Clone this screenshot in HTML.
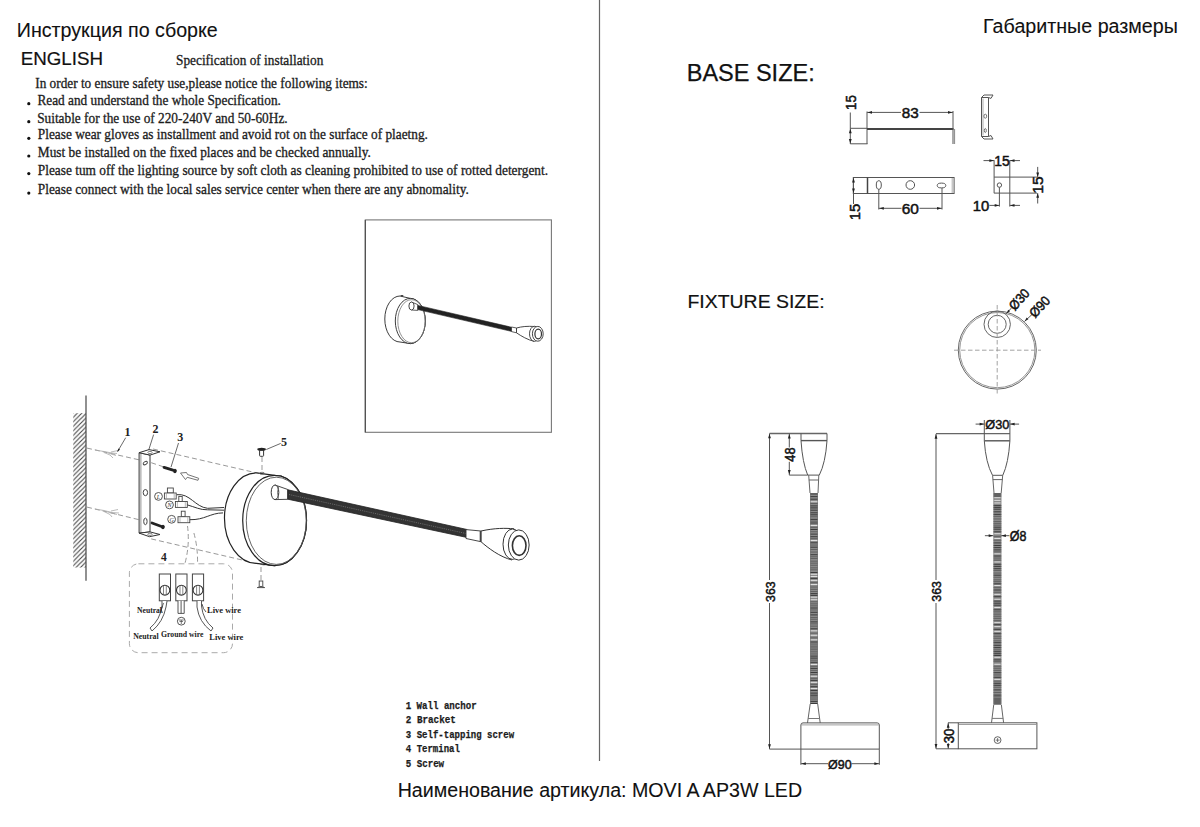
<!DOCTYPE html>
<html><head><meta charset="utf-8">
<style>
html,body{margin:0;padding:0;background:#fff;}
body{width:1200px;height:827px;overflow:hidden;position:relative;}
svg{position:absolute;left:0;top:0;}
.sans{font-family:"Liberation Sans",sans-serif;}
.serif{font-family:"Liberation Serif",serif;}
.mono{font-family:"Liberation Mono",monospace;}
</style></head><body>
<svg width="1200" height="827" viewBox="0 0 1200 827">
<defs>
<pattern id="goose" x="0" y="0" width="8" height="2" patternUnits="userSpaceOnUse">
<rect width="8" height="2" fill="#8a8a8a"/><rect y="0" width="8" height="0.9" fill="#5a5a5a"/>
</pattern>
<pattern id="hatch" x="0" y="0" width="4.5" height="4.5" patternUnits="userSpaceOnUse">
<path d="M-1,5.5 L5.5,-1 M-1,1 L1,-1 M3.5,5.5 L5.5,3.5" stroke="#444" stroke-width="1.1"/>
</pattern>
</defs>
<!-- divider -->
<line x1="599.5" y1="0" x2="599.5" y2="761" stroke="#666" stroke-width="1.2"/>

<!-- inset box -->
<rect x="365.3" y="219.9" width="186.1" height="212.4" fill="none" stroke="#777" stroke-width="1.1"/>
<line x1="365.3" y1="219.9" x2="365.3" y2="432.3" stroke="#4a4a4a" stroke-width="1.1"/>

<line x1="850.30" y1="112.50" x2="850.30" y2="144.00" stroke="#555" stroke-width="1" />
<line x1="850.30" y1="128.30" x2="867.00" y2="128.30" stroke="#555" stroke-width="1" />
<line x1="850.30" y1="143.80" x2="867.50" y2="143.80" stroke="#555" stroke-width="1" />
<line x1="867.00" y1="111.50" x2="867.00" y2="144.00" stroke="#555" stroke-width="1" />
<line x1="867.00" y1="128.90" x2="953.50" y2="128.90" stroke="#444" stroke-width="2" />
<line x1="953.00" y1="111.00" x2="953.00" y2="144.00" stroke="#555" stroke-width="1" />
<line x1="954.60" y1="129.00" x2="954.60" y2="144.00" stroke="#888" stroke-width="1" />
<path d="M850.30,128.80 L851.70,133.30 L848.90,133.30Z" fill="#222"/>
<path d="M850.30,143.40 L848.90,138.90 L851.70,138.90Z" fill="#222"/>
<line x1="867.00" y1="112.40" x2="901.00" y2="112.40" stroke="#555" stroke-width="1" />
<line x1="919.50" y1="112.40" x2="953.00" y2="112.40" stroke="#555" stroke-width="1" />
<path d="M867.50,112.40 L872.00,111.00 L872.00,113.80Z" fill="#222"/>
<path d="M952.50,112.40 L948.00,113.80 L948.00,111.00Z" fill="#222"/>
<text transform="translate(910.30,112.40) rotate(0)" x="0" y="5.58" font-family="Liberation Sans" font-size="15.5" text-anchor="middle" fill="#111" stroke="#111" stroke-width="0.5" textLength="17" lengthAdjust="spacingAndGlyphs">83</text>
<text transform="translate(850.80,102.60) rotate(-90)" x="0" y="5.40" font-family="Liberation Sans" font-size="15" text-anchor="middle" fill="#111" stroke="#111" stroke-width="0.5" textLength="14.8" lengthAdjust="spacingAndGlyphs">15</text>
<path d="M981.5,97.5 L988.5,97.5 L988.5,136.5 L981.5,136.5 Z" fill="none" stroke="#555" stroke-width="1"/>
<path d="M981.5,97.5 L984,95 L993,95 L991,98.4 L988.5,97.5" fill="none" stroke="#555" stroke-width="1"/>
<path d="M981.5,136.5 L984,139 L993,139 L991,135.5 L988.5,136.5" fill="none" stroke="#555" stroke-width="1"/>
<line x1="983.00" y1="98.50" x2="983.00" y2="135.50" stroke="#999" stroke-width="0.8" />
<ellipse cx="985.3" cy="116.2" rx="1.4" ry="2" fill="none" stroke="#666" stroke-width="0.9"/>
<ellipse cx="985.3" cy="130.5" rx="1" ry="2" fill="none" stroke="#666" stroke-width="0.9"/>
<rect x="853.3" y="177.5" width="100.8" height="16" fill="none" stroke="#555" stroke-width="1"/>
<line x1="867.50" y1="177.50" x2="867.50" y2="193.50" stroke="#444" stroke-width="1.5" />
<line x1="952.20" y1="178.00" x2="952.20" y2="193.00" stroke="#999" stroke-width="0.8" />
<line x1="853.50" y1="177.50" x2="853.50" y2="204.00" stroke="#555" stroke-width="1" />
<path d="M853.50,178.00 L854.90,182.50 L852.10,182.50Z" fill="#222"/>
<path d="M853.50,193.00 L852.10,188.50 L854.90,188.50Z" fill="#222"/>
<text transform="translate(854.30,212.00) rotate(-90)" x="0" y="5.40" font-family="Liberation Sans" font-size="15" text-anchor="middle" fill="#111" stroke="#111" stroke-width="0.5" textLength="16.5" lengthAdjust="spacingAndGlyphs">15</text>
<ellipse cx="878.8" cy="185" rx="2.5" ry="4.3" fill="none" stroke="#555" stroke-width="1"/>
<circle cx="910.3" cy="185" r="4.3" fill="none" stroke="#555" stroke-width="1"/>
<ellipse cx="941.5" cy="185.5" rx="4.3" ry="2.4" fill="none" stroke="#555" stroke-width="1"/>
<line x1="878.80" y1="189.30" x2="878.80" y2="209.50" stroke="#555" stroke-width="1" />
<line x1="942.00" y1="188.00" x2="942.00" y2="209.50" stroke="#555" stroke-width="1" />
<line x1="878.80" y1="208.30" x2="901.50" y2="208.30" stroke="#555" stroke-width="1" />
<line x1="919.50" y1="208.30" x2="942.00" y2="208.30" stroke="#555" stroke-width="1" />
<path d="M879.30,208.30 L883.80,206.90 L883.80,209.70Z" fill="#222"/>
<path d="M941.50,208.30 L937.00,209.70 L937.00,206.90Z" fill="#222"/>
<text transform="translate(910.30,208.30) rotate(0)" x="0" y="5.58" font-family="Liberation Sans" font-size="15.5" text-anchor="middle" fill="#111" stroke="#111" stroke-width="0.5" textLength="17.2" lengthAdjust="spacingAndGlyphs">60</text>
<line x1="994.10" y1="160.20" x2="994.10" y2="193.20" stroke="#555" stroke-width="1" />
<line x1="1009.80" y1="160.20" x2="1009.80" y2="206.60" stroke="#555" stroke-width="1" />
<line x1="994.10" y1="177.10" x2="1037.00" y2="177.10" stroke="#555" stroke-width="1" />
<line x1="994.10" y1="193.10" x2="1037.00" y2="193.10" stroke="#555" stroke-width="1" />
<circle cx="999.4" cy="185.1" r="2.2" fill="none" stroke="#555" stroke-width="1"/>
<line x1="999.40" y1="187.30" x2="999.40" y2="206.60" stroke="#555" stroke-width="1" />
<line x1="989.40" y1="205.40" x2="999.40" y2="205.40" stroke="#555" stroke-width="1" />
<path d="M999.20,205.40 L994.70,206.80 L994.70,204.00Z" fill="#222"/>
<line x1="1009.80" y1="205.40" x2="1020.00" y2="205.40" stroke="#555" stroke-width="1" />
<path d="M1010.00,205.40 L1014.50,204.00 L1014.50,206.80Z" fill="#222"/>
<text transform="translate(981.10,205.40) rotate(0)" x="0" y="5.40" font-family="Liberation Sans" font-size="15" text-anchor="middle" fill="#111" stroke="#111" stroke-width="0.5" textLength="16.5" lengthAdjust="spacingAndGlyphs">10</text>
<line x1="983.50" y1="160.60" x2="994.10" y2="160.60" stroke="#555" stroke-width="1" />
<path d="M993.90,160.60 L989.40,162.00 L989.40,159.20Z" fill="#222"/>
<line x1="1009.80" y1="160.60" x2="1020.00" y2="160.60" stroke="#555" stroke-width="1" />
<path d="M1010.00,160.60 L1014.50,159.20 L1014.50,162.00Z" fill="#222"/>
<text transform="translate(1002.10,160.80) rotate(0)" x="0" y="5.40" font-family="Liberation Sans" font-size="15" text-anchor="middle" fill="#111" stroke="#111" stroke-width="0.5" textLength="15.5" lengthAdjust="spacingAndGlyphs">15</text>
<line x1="1037.70" y1="166.90" x2="1037.70" y2="177.10" stroke="#555" stroke-width="1" />
<path d="M1037.70,176.90 L1036.30,172.40 L1039.10,172.40Z" fill="#222"/>
<line x1="1037.70" y1="193.10" x2="1037.70" y2="203.50" stroke="#555" stroke-width="1" />
<path d="M1037.70,193.30 L1039.10,197.80 L1036.30,197.80Z" fill="#222"/>
<text transform="translate(1037.30,185.00) rotate(-90)" x="0" y="5.40" font-family="Liberation Sans" font-size="15" text-anchor="middle" fill="#111" stroke="#111" stroke-width="0.5" textLength="17.3" lengthAdjust="spacingAndGlyphs">15</text>
<text x="16.80" y="36.70" font-family="Liberation Sans" font-size="19.6" fill="#111" stroke="#111" stroke-width="0.1" textLength="200.96" lengthAdjust="spacingAndGlyphs" >Инструкция по сборке</text>
<text x="20.71" y="65.30" font-family="Liberation Sans" font-size="18.9" fill="#111" stroke="#111" stroke-width="0.2" textLength="82.35" lengthAdjust="spacingAndGlyphs" >ENGLISH</text>
<text x="983.09" y="32.70" font-family="Liberation Sans" font-size="19.6" fill="#111" stroke="#111" stroke-width="0.1" textLength="194.81" lengthAdjust="spacingAndGlyphs" >Габаритные размеры</text>
<text x="686.71" y="81.10" font-family="Liberation Sans" font-size="23.6" fill="#111" stroke="#111" stroke-width="0.25" textLength="128.01" lengthAdjust="spacingAndGlyphs" >BASE SIZE:</text>
<text x="687.48" y="308.10" font-family="Liberation Sans" font-size="19.2" fill="#111" stroke="#111" stroke-width="0.2" textLength="137.12" lengthAdjust="spacingAndGlyphs" >FIXTURE SIZE:</text>
<text x="397.70" y="796.60" font-family="Liberation Sans" font-size="19.6" fill="#111" stroke="#111" stroke-width="0.1" textLength="404.43" lengthAdjust="spacingAndGlyphs" >Наименование артикула: MOVI A AP3W LED</text>
<text x="176.03" y="65.40" font-family="Liberation Serif" font-size="13.8" fill="#1c1c1c" stroke="#1c1c1c" stroke-width="0.3" textLength="147.29" lengthAdjust="spacingAndGlyphs" >Specification of installation</text>
<text x="35.22" y="87.50" font-family="Liberation Serif" font-size="13.8" fill="#1c1c1c" stroke="#1c1c1c" stroke-width="0.3" textLength="332.50" lengthAdjust="spacingAndGlyphs" >In order to ensure safety use,please notice the following items:</text>
<text x="37.41" y="104.70" font-family="Liberation Serif" font-size="13.8" fill="#1c1c1c" stroke="#1c1c1c" stroke-width="0.3" textLength="243.47" lengthAdjust="spacingAndGlyphs" >Read and understand the whole Specification.</text>
<text x="37.13" y="122.60" font-family="Liberation Serif" font-size="13.8" fill="#1c1c1c" stroke="#1c1c1c" stroke-width="0.3" textLength="250.52" lengthAdjust="spacingAndGlyphs" >Suitable for the use of 220-240V and 50-60Hz.</text>
<text x="37.81" y="139.40" font-family="Liberation Serif" font-size="13.8" fill="#1c1c1c" stroke="#1c1c1c" stroke-width="0.3" textLength="390.14" lengthAdjust="spacingAndGlyphs" >Please wear gloves as installment and avoid rot on the surface of plaetng.</text>
<text x="37.81" y="157.10" font-family="Liberation Serif" font-size="13.8" fill="#1c1c1c" stroke="#1c1c1c" stroke-width="0.3" textLength="333.03" lengthAdjust="spacingAndGlyphs" >Must be installed on the fixed places and be checked annually.</text>
<text x="37.81" y="174.60" font-family="Liberation Serif" font-size="13.8" fill="#1c1c1c" stroke="#1c1c1c" stroke-width="0.3" textLength="510.24" lengthAdjust="spacingAndGlyphs" >Please tum off the lighting source by soft cloth as cleaning prohibited to use of rotted detergent.</text>
<text x="37.81" y="194.20" font-family="Liberation Serif" font-size="13.8" fill="#1c1c1c" stroke="#1c1c1c" stroke-width="0.3" textLength="431.02" lengthAdjust="spacingAndGlyphs" >Please connect with the local sales service center when there are any abnomality.</text>
<circle cx="28.8" cy="103.7" r="1.6" fill="#111"/>
<circle cx="28.8" cy="121.7" r="1.6" fill="#111"/>
<circle cx="28.8" cy="138.3" r="1.6" fill="#111"/>
<circle cx="28.8" cy="156" r="1.6" fill="#111"/>
<circle cx="28.8" cy="173.6" r="1.6" fill="#111"/>
<circle cx="28.8" cy="193.1" r="1.6" fill="#111"/>
<text x="405.69" y="708.60" font-family="Liberation Mono" font-size="10.5" fill="#1c1c1c" font-weight="bold" stroke="#1c1c1c" stroke-width="0.25" textLength="70.93" lengthAdjust="spacingAndGlyphs" >1 Wall anchor</text>
<text x="405.77" y="723.10" font-family="Liberation Mono" font-size="10.5" fill="#1c1c1c" font-weight="bold" stroke="#1c1c1c" stroke-width="0.25" textLength="50.13" lengthAdjust="spacingAndGlyphs" >2 Bracket</text>
<text x="405.87" y="737.60" font-family="Liberation Mono" font-size="10.5" fill="#1c1c1c" font-weight="bold" stroke="#1c1c1c" stroke-width="0.25" textLength="108.24" lengthAdjust="spacingAndGlyphs" >3 Self-tapping screw</text>
<text x="405.86" y="751.80" font-family="Liberation Mono" font-size="10.5" fill="#1c1c1c" font-weight="bold" stroke="#1c1c1c" stroke-width="0.25" textLength="54.00" lengthAdjust="spacingAndGlyphs" >4 Terminal</text>
<text x="405.77" y="766.50" font-family="Liberation Mono" font-size="10.5" fill="#1c1c1c" font-weight="bold" stroke="#1c1c1c" stroke-width="0.25" textLength="38.33" lengthAdjust="spacingAndGlyphs" >5 Screw</text>
<circle cx="997.3" cy="350.1" r="39" fill="none" stroke="#666" stroke-width="1"/>
<circle cx="997.3" cy="350.1" r="37.6" fill="none" stroke="#888" stroke-width="0.9"/>
<circle cx="997.2" cy="324.3" r="13.2" fill="none" stroke="#666" stroke-width="1"/>
<circle cx="997.2" cy="324.3" r="9" fill="none" stroke="#666" stroke-width="1"/>
<line x1="997.2" y1="305" x2="997.2" y2="396" stroke="#999" stroke-width="0.9" stroke-dasharray="4.5,2.5"/>
<line x1="954" y1="350.2" x2="1041" y2="350.2" stroke="#999" stroke-width="0.9" stroke-dasharray="4.5,2.5"/>
<line x1="1006.30" y1="313.80" x2="1011.20" y2="308.20" stroke="#555" stroke-width="1" />
<path d="M1006.50,313.60 L1008.19,309.78 L1010.01,311.34Z" fill="#222"/>
<line x1="1024.50" y1="321.50" x2="1032.30" y2="314.20" stroke="#555" stroke-width="1" />
<path d="M1024.70,321.30 L1026.63,317.60 L1028.35,319.27Z" fill="#222"/>
<text transform="translate(1019.00,299.20) rotate(-47.7)" x="0" y="4.86" font-family="Liberation Sans" font-size="13.5" text-anchor="middle" fill="#111" stroke="#111" stroke-width="0.5" textLength="23.5" lengthAdjust="spacingAndGlyphs">Ø30</text>
<text transform="translate(1039.50,306.70) rotate(-46.3)" x="0" y="4.86" font-family="Liberation Sans" font-size="13.5" text-anchor="middle" fill="#111" stroke="#111" stroke-width="0.5" textLength="23.5" lengthAdjust="spacingAndGlyphs">Ø90</text>
<line x1="769.50" y1="433.50" x2="769.50" y2="580.00" stroke="#555" stroke-width="1" />
<line x1="769.50" y1="603.00" x2="769.50" y2="749.10" stroke="#555" stroke-width="1" />
<path d="M769.50,433.80 L770.90,438.30 L768.10,438.30Z" fill="#222"/>
<path d="M769.50,748.80 L768.10,744.30 L770.90,744.30Z" fill="#222"/>
<line x1="769.50" y1="433.50" x2="827.00" y2="433.50" stroke="#666" stroke-width="1.3" />
<text transform="translate(769.65,591.65) rotate(-90)" x="0" y="4.86" font-family="Liberation Sans" font-size="13.5" text-anchor="middle" fill="#111" stroke="#111" stroke-width="0.5" textLength="20.5" lengthAdjust="spacingAndGlyphs">363</text>
<path d="M801,433.5 L801,440.6 Q802.5,463 807.7,475.1 L819.3,475.1 Q825.5,463 827,440.6 L827,433.5" fill="none" stroke="#555" stroke-width="1"/>
<line x1="801.00" y1="440.60" x2="827.00" y2="440.60" stroke="#555" stroke-width="1.4" />
<line x1="789.30" y1="433.50" x2="789.30" y2="447.50" stroke="#555" stroke-width="1" />
<line x1="789.30" y1="461.80" x2="789.30" y2="475.10" stroke="#555" stroke-width="1" />
<path d="M789.30,434.00 L790.70,438.50 L787.90,438.50Z" fill="#222"/>
<path d="M789.30,474.60 L787.90,470.10 L790.70,470.10Z" fill="#222"/>
<line x1="789.30" y1="475.10" x2="807.70" y2="475.10" stroke="#555" stroke-width="1" />
<text transform="translate(789.85,454.60) rotate(-90)" x="0" y="5.04" font-family="Liberation Sans" font-size="14" text-anchor="middle" fill="#111" stroke="#111" stroke-width="0.5" textLength="14.3" lengthAdjust="spacingAndGlyphs">48</text>
<path d="M808.7,475.1 L810,493 M818.8,475.1 L818,493" fill="none" stroke="#666" stroke-width="1"/>
<line x1="808.90" y1="480.00" x2="818.70" y2="480.00" stroke="#666" stroke-width="1" />
<rect x="810" y="493" width="8" height="211" fill="#8a8a8a"/>
<rect x="810" y="493.50" width="8" height="1.0" fill="#3c3c3c"/>
<rect x="810" y="496.10" width="8" height="1.0" fill="#3c3c3c"/>
<rect x="810" y="498.70" width="8" height="1.0" fill="#3c3c3c"/>
<rect x="810" y="501.30" width="8" height="0.9" fill="#e8e8e8"/>
<rect x="810" y="503.10" width="8" height="0.9" fill="#5e5e5e"/>
<rect x="810" y="505.40" width="8" height="1.0" fill="#3c3c3c"/>
<rect x="810" y="507.40" width="8" height="1.0" fill="#3c3c3c"/>
<rect x="810" y="509.70" width="8" height="1.0" fill="#3c3c3c"/>
<rect x="810" y="512.30" width="8" height="1.0" fill="#3c3c3c"/>
<rect x="810" y="514.30" width="8" height="1.0" fill="#3c3c3c"/>
<rect x="810" y="516.30" width="8" height="0.9" fill="#5e5e5e"/>
<rect x="810" y="518.90" width="8" height="1.0" fill="#3c3c3c"/>
<rect x="810" y="520.70" width="8" height="0.9" fill="#5e5e5e"/>
<rect x="810" y="522.50" width="8" height="1.0" fill="#3c3c3c"/>
<rect x="810" y="525.10" width="8" height="0.9" fill="#e8e8e8"/>
<rect x="810" y="526.90" width="8" height="0.9" fill="#5e5e5e"/>
<rect x="810" y="529.00" width="8" height="1.0" fill="#3c3c3c"/>
<rect x="810" y="531.30" width="8" height="0.9" fill="#5e5e5e"/>
<rect x="810" y="533.60" width="8" height="1.0" fill="#3c3c3c"/>
<rect x="810" y="536.20" width="8" height="1.0" fill="#3c3c3c"/>
<rect x="810" y="538.20" width="8" height="0.9" fill="#5e5e5e"/>
<rect x="810" y="540.00" width="8" height="0.9" fill="#e8e8e8"/>
<rect x="810" y="542.30" width="8" height="1.0" fill="#3c3c3c"/>
<rect x="810" y="544.60" width="8" height="0.9" fill="#5e5e5e"/>
<rect x="810" y="546.70" width="8" height="1.0" fill="#3c3c3c"/>
<rect x="810" y="549.00" width="8" height="0.9" fill="#5e5e5e"/>
<rect x="810" y="551.60" width="8" height="0.9" fill="#5e5e5e"/>
<rect x="810" y="554.20" width="8" height="1.0" fill="#3c3c3c"/>
<rect x="810" y="556.30" width="8" height="0.9" fill="#5e5e5e"/>
<rect x="810" y="558.10" width="8" height="0.9" fill="#5e5e5e"/>
<rect x="810" y="560.70" width="8" height="0.9" fill="#5e5e5e"/>
<rect x="810" y="562.70" width="8" height="0.9" fill="#5e5e5e"/>
<rect x="810" y="564.80" width="8" height="0.9" fill="#5e5e5e"/>
<rect x="810" y="567.40" width="8" height="0.9" fill="#5e5e5e"/>
<rect x="810" y="569.40" width="8" height="0.9" fill="#5e5e5e"/>
<rect x="810" y="572.00" width="8" height="1.0" fill="#3c3c3c"/>
<rect x="810" y="573.80" width="8" height="0.9" fill="#e8e8e8"/>
<rect x="810" y="576.10" width="8" height="0.9" fill="#e8e8e8"/>
<rect x="810" y="577.90" width="8" height="1.0" fill="#3c3c3c"/>
<rect x="810" y="579.90" width="8" height="0.9" fill="#e8e8e8"/>
<rect x="810" y="582.20" width="8" height="0.9" fill="#5e5e5e"/>
<rect x="810" y="584.00" width="8" height="0.9" fill="#e8e8e8"/>
<rect x="810" y="586.60" width="8" height="0.9" fill="#5e5e5e"/>
<rect x="810" y="588.90" width="8" height="0.9" fill="#5e5e5e"/>
<rect x="810" y="591.00" width="8" height="0.9" fill="#5e5e5e"/>
<rect x="810" y="593.10" width="8" height="1.0" fill="#3c3c3c"/>
<rect x="810" y="594.90" width="8" height="1.0" fill="#3c3c3c"/>
<rect x="810" y="596.70" width="8" height="0.9" fill="#e8e8e8"/>
<rect x="810" y="599.30" width="8" height="0.9" fill="#e8e8e8"/>
<rect x="810" y="601.30" width="8" height="0.9" fill="#5e5e5e"/>
<rect x="810" y="603.40" width="8" height="0.9" fill="#5e5e5e"/>
<rect x="810" y="605.40" width="8" height="0.9" fill="#5e5e5e"/>
<rect x="810" y="607.50" width="8" height="1.0" fill="#3c3c3c"/>
<rect x="810" y="609.50" width="8" height="0.9" fill="#5e5e5e"/>
<rect x="810" y="611.80" width="8" height="1.0" fill="#3c3c3c"/>
<rect x="810" y="614.40" width="8" height="1.0" fill="#3c3c3c"/>
<rect x="810" y="617.00" width="8" height="0.9" fill="#5e5e5e"/>
<rect x="810" y="618.80" width="8" height="0.9" fill="#5e5e5e"/>
<rect x="810" y="621.40" width="8" height="1.0" fill="#3c3c3c"/>
<rect x="810" y="623.40" width="8" height="0.9" fill="#5e5e5e"/>
<rect x="810" y="625.70" width="8" height="0.9" fill="#5e5e5e"/>
<rect x="810" y="628.30" width="8" height="1.0" fill="#3c3c3c"/>
<rect x="810" y="630.40" width="8" height="0.9" fill="#e8e8e8"/>
<rect x="810" y="632.70" width="8" height="0.9" fill="#5e5e5e"/>
<rect x="810" y="634.80" width="8" height="0.9" fill="#e8e8e8"/>
<rect x="810" y="637.40" width="8" height="0.9" fill="#5e5e5e"/>
<rect x="810" y="639.40" width="8" height="0.9" fill="#e8e8e8"/>
<rect x="810" y="641.50" width="8" height="1.0" fill="#3c3c3c"/>
<rect x="810" y="643.60" width="8" height="0.9" fill="#5e5e5e"/>
<rect x="810" y="645.70" width="8" height="0.9" fill="#5e5e5e"/>
<rect x="810" y="647.50" width="8" height="0.9" fill="#5e5e5e"/>
<rect x="810" y="649.30" width="8" height="0.9" fill="#5e5e5e"/>
<rect x="810" y="651.40" width="8" height="0.9" fill="#5e5e5e"/>
<rect x="810" y="653.50" width="8" height="0.9" fill="#5e5e5e"/>
<rect x="810" y="655.60" width="8" height="1.0" fill="#3c3c3c"/>
<rect x="810" y="657.60" width="8" height="1.0" fill="#3c3c3c"/>
<rect x="810" y="659.70" width="8" height="0.9" fill="#5e5e5e"/>
<rect x="810" y="661.80" width="8" height="1.0" fill="#3c3c3c"/>
<rect x="810" y="664.10" width="8" height="0.9" fill="#e8e8e8"/>
<rect x="810" y="665.90" width="8" height="0.9" fill="#5e5e5e"/>
<rect x="810" y="667.90" width="8" height="1.0" fill="#3c3c3c"/>
<rect x="810" y="669.90" width="8" height="0.9" fill="#5e5e5e"/>
<rect x="810" y="672.00" width="8" height="1.0" fill="#3c3c3c"/>
<rect x="810" y="674.00" width="8" height="0.9" fill="#5e5e5e"/>
<rect x="810" y="675.80" width="8" height="0.9" fill="#e8e8e8"/>
<rect x="810" y="677.90" width="8" height="0.9" fill="#5e5e5e"/>
<rect x="810" y="679.90" width="8" height="1.0" fill="#3c3c3c"/>
<rect x="810" y="681.90" width="8" height="0.9" fill="#e8e8e8"/>
<rect x="810" y="683.90" width="8" height="0.9" fill="#5e5e5e"/>
<rect x="810" y="686.20" width="8" height="1.0" fill="#3c3c3c"/>
<rect x="810" y="688.00" width="8" height="0.9" fill="#e8e8e8"/>
<rect x="810" y="690.00" width="8" height="1.0" fill="#3c3c3c"/>
<rect x="810" y="692.60" width="8" height="1.0" fill="#3c3c3c"/>
<rect x="810" y="694.70" width="8" height="1.0" fill="#3c3c3c"/>
<rect x="810" y="696.50" width="8" height="0.9" fill="#5e5e5e"/>
<rect x="810" y="698.60" width="8" height="0.9" fill="#5e5e5e"/>
<rect x="810" y="700.90" width="8" height="1.0" fill="#3c3c3c"/>
<rect x="810" y="703.00" width="8" height="1.0" fill="#3c3c3c"/>
<rect x="810" y="493" width="0.8" height="211" fill="#777" opacity="0.7"/>
<rect x="817.2" y="493" width="0.8" height="211" fill="#777" opacity="0.7"/>
<path d="M810.2,704 L807.5,722.9 M817.7,704 L820.2,722.9" fill="none" stroke="#666" stroke-width="1"/>
<line x1="808.00" y1="718.50" x2="819.80" y2="718.50" stroke="#777" stroke-width="1" />
<path d="M800.9,749.1 L800.9,725 Q800.9,722.9 803,722.9 L877.2,722.9 Q879.3,722.9 879.3,725 L879.3,749.1" fill="none" stroke="#555" stroke-width="1"/>
<line x1="801.50" y1="724.90" x2="878.70" y2="724.90" stroke="#888" stroke-width="0.8" />
<line x1="769.50" y1="749.10" x2="879.30" y2="749.10" stroke="#555" stroke-width="1" />
<line x1="800.90" y1="749.10" x2="800.90" y2="764.80" stroke="#555" stroke-width="1" />
<line x1="879.30" y1="749.10" x2="879.30" y2="764.80" stroke="#555" stroke-width="1" />
<line x1="800.90" y1="763.70" x2="828.00" y2="763.70" stroke="#555" stroke-width="1" />
<line x1="851.50" y1="763.70" x2="879.30" y2="763.70" stroke="#555" stroke-width="1" />
<path d="M801.30,763.70 L805.80,762.30 L805.80,765.10Z" fill="#222"/>
<path d="M878.90,763.70 L874.40,765.10 L874.40,762.30Z" fill="#222"/>
<text transform="translate(839.80,763.90) rotate(0)" x="0" y="4.86" font-family="Liberation Sans" font-size="13.5" text-anchor="middle" fill="#111" stroke="#111" stroke-width="0.5" textLength="23.5" lengthAdjust="spacingAndGlyphs">Ø90</text>
<line x1="936.00" y1="433.90" x2="936.00" y2="580.00" stroke="#555" stroke-width="1" />
<line x1="936.00" y1="603.00" x2="936.00" y2="748.80" stroke="#555" stroke-width="1" />
<path d="M936.00,434.20 L937.40,438.70 L934.60,438.70Z" fill="#222"/>
<path d="M936.00,748.50 L934.60,744.00 L937.40,744.00Z" fill="#222"/>
<line x1="936.00" y1="433.70" x2="1009.90" y2="433.70" stroke="#666" stroke-width="1.3" />
<text transform="translate(936.20,591.40) rotate(-90)" x="0" y="4.86" font-family="Liberation Sans" font-size="13.5" text-anchor="middle" fill="#111" stroke="#111" stroke-width="0.5" textLength="20.5" lengthAdjust="spacingAndGlyphs">363</text>
<path d="M984.3,420 L984.3,440.8 Q985.8,463 992.5,475.3 L1002.8,475.3 Q1008.5,463 1009.9,440.8 L1009.9,420" fill="none" stroke="#555" stroke-width="1"/>
<line x1="984.30" y1="440.80" x2="1009.90" y2="440.80" stroke="#555" stroke-width="1.4" />
<line x1="975.60" y1="424.10" x2="984.30" y2="424.10" stroke="#555" stroke-width="1" />
<path d="M984.10,424.10 L979.60,425.50 L979.60,422.70Z" fill="#222"/>
<line x1="1009.90" y1="424.10" x2="1019.10" y2="424.10" stroke="#555" stroke-width="1" />
<path d="M1010.10,424.10 L1014.60,422.70 L1014.60,425.50Z" fill="#222"/>
<text transform="translate(997.35,424.50) rotate(0)" x="0" y="4.86" font-family="Liberation Sans" font-size="13.5" text-anchor="middle" fill="#111" stroke="#111" stroke-width="0.5" textLength="24" lengthAdjust="spacingAndGlyphs">Ø30</text>
<path d="M992.6,475.3 L994,493 M1002.7,475.3 L1001.2,493" fill="none" stroke="#666" stroke-width="1"/>
<line x1="992.80" y1="479.60" x2="1002.60" y2="479.60" stroke="#666" stroke-width="1" />
<rect x="993.5" y="493" width="7.8" height="212" fill="#8a8a8a"/>
<rect x="993.5" y="493.50" width="7.8" height="1.0" fill="#3c3c3c"/>
<rect x="993.5" y="495.50" width="7.8" height="1.0" fill="#3c3c3c"/>
<rect x="993.5" y="497.30" width="7.8" height="0.9" fill="#e8e8e8"/>
<rect x="993.5" y="499.90" width="7.8" height="0.9" fill="#e8e8e8"/>
<rect x="993.5" y="502.50" width="7.8" height="0.9" fill="#e8e8e8"/>
<rect x="993.5" y="505.10" width="7.8" height="1.0" fill="#3c3c3c"/>
<rect x="993.5" y="506.90" width="7.8" height="1.0" fill="#3c3c3c"/>
<rect x="993.5" y="508.70" width="7.8" height="1.0" fill="#3c3c3c"/>
<rect x="993.5" y="511.30" width="7.8" height="1.0" fill="#3c3c3c"/>
<rect x="993.5" y="513.90" width="7.8" height="1.0" fill="#3c3c3c"/>
<rect x="993.5" y="515.90" width="7.8" height="0.9" fill="#5e5e5e"/>
<rect x="993.5" y="518.50" width="7.8" height="0.9" fill="#5e5e5e"/>
<rect x="993.5" y="521.10" width="7.8" height="0.9" fill="#5e5e5e"/>
<rect x="993.5" y="522.90" width="7.8" height="0.9" fill="#5e5e5e"/>
<rect x="993.5" y="524.70" width="7.8" height="0.9" fill="#5e5e5e"/>
<rect x="993.5" y="526.70" width="7.8" height="1.0" fill="#3c3c3c"/>
<rect x="993.5" y="528.70" width="7.8" height="1.0" fill="#3c3c3c"/>
<rect x="993.5" y="531.30" width="7.8" height="1.0" fill="#3c3c3c"/>
<rect x="993.5" y="533.30" width="7.8" height="0.9" fill="#e8e8e8"/>
<rect x="993.5" y="535.90" width="7.8" height="0.9" fill="#5e5e5e"/>
<rect x="993.5" y="538.00" width="7.8" height="0.9" fill="#e8e8e8"/>
<rect x="993.5" y="539.80" width="7.8" height="0.9" fill="#5e5e5e"/>
<rect x="993.5" y="542.40" width="7.8" height="1.0" fill="#3c3c3c"/>
<rect x="993.5" y="545.00" width="7.8" height="1.0" fill="#3c3c3c"/>
<rect x="993.5" y="547.10" width="7.8" height="1.0" fill="#3c3c3c"/>
<rect x="993.5" y="549.40" width="7.8" height="1.0" fill="#3c3c3c"/>
<rect x="993.5" y="551.40" width="7.8" height="0.9" fill="#5e5e5e"/>
<rect x="993.5" y="553.40" width="7.8" height="0.9" fill="#e8e8e8"/>
<rect x="993.5" y="555.50" width="7.8" height="1.0" fill="#3c3c3c"/>
<rect x="993.5" y="557.60" width="7.8" height="0.9" fill="#5e5e5e"/>
<rect x="993.5" y="559.70" width="7.8" height="0.9" fill="#5e5e5e"/>
<rect x="993.5" y="561.50" width="7.8" height="0.9" fill="#e8e8e8"/>
<rect x="993.5" y="563.80" width="7.8" height="1.0" fill="#3c3c3c"/>
<rect x="993.5" y="565.90" width="7.8" height="1.0" fill="#3c3c3c"/>
<rect x="993.5" y="568.20" width="7.8" height="1.0" fill="#3c3c3c"/>
<rect x="993.5" y="570.00" width="7.8" height="0.9" fill="#5e5e5e"/>
<rect x="993.5" y="572.60" width="7.8" height="0.9" fill="#5e5e5e"/>
<rect x="993.5" y="574.70" width="7.8" height="1.0" fill="#3c3c3c"/>
<rect x="993.5" y="576.80" width="7.8" height="0.9" fill="#5e5e5e"/>
<rect x="993.5" y="579.40" width="7.8" height="0.9" fill="#5e5e5e"/>
<rect x="993.5" y="581.20" width="7.8" height="0.9" fill="#5e5e5e"/>
<rect x="993.5" y="583.30" width="7.8" height="1.0" fill="#3c3c3c"/>
<rect x="993.5" y="585.10" width="7.8" height="0.9" fill="#e8e8e8"/>
<rect x="993.5" y="587.20" width="7.8" height="0.9" fill="#5e5e5e"/>
<rect x="993.5" y="589.50" width="7.8" height="1.0" fill="#3c3c3c"/>
<rect x="993.5" y="591.80" width="7.8" height="0.9" fill="#5e5e5e"/>
<rect x="993.5" y="593.90" width="7.8" height="0.9" fill="#e8e8e8"/>
<rect x="993.5" y="596.20" width="7.8" height="1.0" fill="#3c3c3c"/>
<rect x="993.5" y="598.80" width="7.8" height="0.9" fill="#e8e8e8"/>
<rect x="993.5" y="600.60" width="7.8" height="1.0" fill="#3c3c3c"/>
<rect x="993.5" y="602.70" width="7.8" height="1.0" fill="#3c3c3c"/>
<rect x="993.5" y="604.70" width="7.8" height="1.0" fill="#3c3c3c"/>
<rect x="993.5" y="607.00" width="7.8" height="0.9" fill="#e8e8e8"/>
<rect x="993.5" y="609.30" width="7.8" height="1.0" fill="#3c3c3c"/>
<rect x="993.5" y="611.40" width="7.8" height="0.9" fill="#5e5e5e"/>
<rect x="993.5" y="613.70" width="7.8" height="0.9" fill="#5e5e5e"/>
<rect x="993.5" y="615.80" width="7.8" height="0.9" fill="#5e5e5e"/>
<rect x="993.5" y="617.90" width="7.8" height="0.9" fill="#5e5e5e"/>
<rect x="993.5" y="620.20" width="7.8" height="0.9" fill="#5e5e5e"/>
<rect x="993.5" y="622.20" width="7.8" height="0.9" fill="#e8e8e8"/>
<rect x="993.5" y="624.20" width="7.8" height="1.0" fill="#3c3c3c"/>
<rect x="993.5" y="626.20" width="7.8" height="0.9" fill="#e8e8e8"/>
<rect x="993.5" y="628.80" width="7.8" height="1.0" fill="#3c3c3c"/>
<rect x="993.5" y="630.90" width="7.8" height="0.9" fill="#e8e8e8"/>
<rect x="993.5" y="633.20" width="7.8" height="1.0" fill="#3c3c3c"/>
<rect x="993.5" y="635.80" width="7.8" height="0.9" fill="#5e5e5e"/>
<rect x="993.5" y="637.80" width="7.8" height="0.9" fill="#5e5e5e"/>
<rect x="993.5" y="640.40" width="7.8" height="0.9" fill="#5e5e5e"/>
<rect x="993.5" y="642.20" width="7.8" height="1.0" fill="#3c3c3c"/>
<rect x="993.5" y="644.80" width="7.8" height="1.0" fill="#3c3c3c"/>
<rect x="993.5" y="647.10" width="7.8" height="1.0" fill="#3c3c3c"/>
<rect x="993.5" y="649.40" width="7.8" height="0.9" fill="#5e5e5e"/>
<rect x="993.5" y="651.20" width="7.8" height="1.0" fill="#3c3c3c"/>
<rect x="993.5" y="653.20" width="7.8" height="1.0" fill="#3c3c3c"/>
<rect x="993.5" y="655.00" width="7.8" height="1.0" fill="#3c3c3c"/>
<rect x="993.5" y="656.80" width="7.8" height="0.9" fill="#e8e8e8"/>
<rect x="993.5" y="659.40" width="7.8" height="1.0" fill="#3c3c3c"/>
<rect x="993.5" y="661.20" width="7.8" height="0.9" fill="#5e5e5e"/>
<rect x="993.5" y="663.80" width="7.8" height="0.9" fill="#e8e8e8"/>
<rect x="993.5" y="665.80" width="7.8" height="0.9" fill="#5e5e5e"/>
<rect x="993.5" y="667.80" width="7.8" height="0.9" fill="#5e5e5e"/>
<rect x="993.5" y="669.90" width="7.8" height="0.9" fill="#5e5e5e"/>
<rect x="993.5" y="672.20" width="7.8" height="1.0" fill="#3c3c3c"/>
<rect x="993.5" y="674.50" width="7.8" height="0.9" fill="#5e5e5e"/>
<rect x="993.5" y="676.80" width="7.8" height="1.0" fill="#3c3c3c"/>
<rect x="993.5" y="678.90" width="7.8" height="0.9" fill="#e8e8e8"/>
<rect x="993.5" y="680.70" width="7.8" height="0.9" fill="#5e5e5e"/>
<rect x="993.5" y="682.80" width="7.8" height="1.0" fill="#3c3c3c"/>
<rect x="993.5" y="684.80" width="7.8" height="1.0" fill="#3c3c3c"/>
<rect x="993.5" y="686.80" width="7.8" height="0.9" fill="#5e5e5e"/>
<rect x="993.5" y="689.40" width="7.8" height="1.0" fill="#3c3c3c"/>
<rect x="993.5" y="692.00" width="7.8" height="0.9" fill="#5e5e5e"/>
<rect x="993.5" y="694.60" width="7.8" height="1.0" fill="#3c3c3c"/>
<rect x="993.5" y="696.40" width="7.8" height="0.9" fill="#5e5e5e"/>
<rect x="993.5" y="698.50" width="7.8" height="1.0" fill="#3c3c3c"/>
<rect x="993.5" y="700.50" width="7.8" height="1.0" fill="#3c3c3c"/>
<rect x="993.5" y="702.50" width="7.8" height="1.0" fill="#3c3c3c"/>
<rect x="993.5" y="493" width="0.8" height="212" fill="#777" opacity="0.7"/>
<rect x="1000.5" y="493" width="0.8" height="212" fill="#777" opacity="0.7"/>
<line x1="984.90" y1="535.70" x2="993.40" y2="535.70" stroke="#555" stroke-width="1" />
<path d="M993.20,535.70 L988.70,537.10 L988.70,534.30Z" fill="#222"/>
<line x1="1001.20" y1="535.70" x2="1009.40" y2="535.70" stroke="#555" stroke-width="1" />
<path d="M1001.40,535.70 L1005.90,534.30 L1005.90,537.10Z" fill="#222"/>
<text transform="translate(1009.80,536.10) rotate(0)" x="0" y="5.04" font-family="Liberation Sans" font-size="14" text-anchor="start" fill="#111" stroke="#111" stroke-width="0.5" textLength="16.6" lengthAdjust="spacingAndGlyphs">Ø8</text>
<path d="M993.7,705 L991.5,722.8 M1001.4,705 L1003.6,722.8" fill="none" stroke="#666" stroke-width="1"/>
<line x1="992.00" y1="718.40" x2="1003.20" y2="718.40" stroke="#777" stroke-width="1" />
<rect x="958.3" y="722.8" width="78.6" height="26" fill="none" stroke="#555" stroke-width="1"/>
<line x1="958.80" y1="724.50" x2="1036.40" y2="724.50" stroke="#888" stroke-width="0.8" />
<line x1="936.00" y1="748.80" x2="958.30" y2="748.80" stroke="#555" stroke-width="1" />
<line x1="948.00" y1="722.80" x2="958.30" y2="722.80" stroke="#555" stroke-width="1" />
<line x1="948.20" y1="722.80" x2="948.20" y2="729.00" stroke="#555" stroke-width="1" />
<line x1="948.20" y1="743.00" x2="948.20" y2="748.80" stroke="#555" stroke-width="1" />
<path d="M948.20,723.20 L949.60,727.70 L946.80,727.70Z" fill="#222"/>
<path d="M948.20,748.40 L946.80,743.90 L949.60,743.90Z" fill="#222"/>
<text transform="translate(948.85,735.90) rotate(-90)" x="0" y="5.04" font-family="Liberation Sans" font-size="14" text-anchor="middle" fill="#111" stroke="#111" stroke-width="0.5" textLength="14.6" lengthAdjust="spacingAndGlyphs">30</text>
<circle cx="997.6" cy="740.1" r="3.4" fill="none" stroke="#555" stroke-width="0.9"/>
<path d="M995.6,740.1 h4 M997.6,738.1 v4" stroke="#555" stroke-width="0.8"/>
<line x1="86.00" y1="395.40" x2="86.00" y2="580.80" stroke="#555" stroke-width="1.3" />
<rect x="73.3" y="413.2" width="12.7" height="154.3" fill="url(#hatch)"/>
<path d="M87,448.1 L139.4,459.9 M151.2,462.7 L164,467" stroke="#999" stroke-width="1" stroke-dasharray="5,3" fill="none"/>
<path d="M153,449 L259.2,473.5" stroke="#999" stroke-width="1" stroke-dasharray="5,3" fill="none"/>
<path d="M87,507.1 L139.4,519.8" stroke="#999" stroke-width="1" stroke-dasharray="5,3" fill="none"/>
<path d="M151.2,538.9 L264.6,565.2" stroke="#999" stroke-width="1" stroke-dasharray="5,3" fill="none"/>
<path d="M187.5,526 Q190,545 184.8,564 M193.9,533 Q198,548 197.5,564" stroke="#999" stroke-width="1" stroke-dasharray="5,3" fill="none"/>
<path d="M262,457 L262,473 M261,567 L261,580" stroke="#999" stroke-width="1" stroke-dasharray="5,3" fill="none"/>
<path d="M95,450 L104,451.5 L112,453 L117,453.5 M104,452.5 L110,455 L113,458 M108,453 L116,455.5 M111,452 L118,450.5" fill="none" stroke="#aaa" stroke-width="0.8"/>
<path d="M95,509 L104,510.5 L112,512.5 L119,513 M104,511.5 L110,514.5 L112,517 M108,512 L117,514.5 M111,511 L118,509.5" fill="none" stroke="#aaa" stroke-width="0.8"/>
<text x="124.6" y="436.2" font-size="12" font-family="Liberation Serif" font-weight="bold" fill="#222">1</text>
<text x="152.4" y="433.1" font-size="12" font-family="Liberation Serif" font-weight="bold" fill="#222">2</text>
<text x="177.2" y="441.3" font-size="12" font-family="Liberation Serif" font-weight="bold" fill="#222">3</text>
<text x="281" y="445.8" font-size="12" font-family="Liberation Serif" font-weight="bold" fill="#222">5</text>
<text x="161" y="560.8" font-size="11.5" font-family="Liberation Serif" font-weight="bold" fill="#222">4</text>
<line x1="125.70" y1="437.70" x2="117.60" y2="451.50" stroke="#444" stroke-width="0.8" />
<path d="M117.40,452.00 L118.28,448.47 L120.01,449.46Z" fill="#222"/>
<line x1="153.60" y1="434.60" x2="148.30" y2="451.30" stroke="#444" stroke-width="0.8" />
<line x1="178.50" y1="443.00" x2="171.00" y2="467.10" stroke="#444" stroke-width="0.8" />
<line x1="280.70" y1="443.40" x2="266.30" y2="449.50" stroke="#444" stroke-width="0.8" />
<path d="M139.1,452.7 L139.1,533.1 L150,531.9 L150,455.1 Z" fill="#fff" stroke="#333" stroke-width="1"/>
<line x1="140.90" y1="454.00" x2="140.90" y2="532.50" stroke="#777" stroke-width="0.8" />
<path d="M139.1,452.7 L149,449.6 L160,451.8 L150,455.1 Z" fill="#fff" stroke="#333" stroke-width="1"/>
<path d="M139.1,533.1 L149.5,536.7 L160,534.5 L150,531.9 Z" fill="#fff" stroke="#333" stroke-width="1"/>
<ellipse cx="150" cy="452.5" rx="2.2" ry="1.1" fill="none" stroke="#666" stroke-width="0.8"/>
<ellipse cx="150" cy="534.3" rx="2.2" ry="1.1" fill="none" stroke="#666" stroke-width="0.8"/>
<ellipse cx="145.3" cy="463.1" rx="2.3" ry="1.4" transform="rotate(-30 145.3 463.1)" fill="none" stroke="#444" stroke-width="1"/>
<ellipse cx="145.4" cy="492.6" rx="2.2" ry="3.1" fill="none" stroke="#444" stroke-width="1"/>
<ellipse cx="145.4" cy="521.4" rx="1.7" ry="3.3" fill="none" stroke="#444" stroke-width="1"/>
<path d="M164,467.4 L173,470.2" stroke="#222" stroke-width="2.8" stroke-linecap="round"/>
<ellipse cx="175" cy="471" rx="1.8" ry="2.2" fill="#222" transform="rotate(17 175 471)"/>
<path d="M152,523 L161.5,526.5" stroke="#222" stroke-width="2.8" stroke-linecap="round"/>
<ellipse cx="163" cy="527" rx="1.8" ry="2.2" fill="#222" transform="rotate(17 163 527)"/>
<path d="M180.5,473 L186.5,472.5 L187.5,474.5 L198.7,478.3 L198,480.3 L187.2,477.3 L185.5,479.6 Z" fill="#fff" stroke="#666" stroke-width="0.9"/>
<circle cx="158.5" cy="496.4" r="3.9" fill="#fff" stroke="#444" stroke-width="0.9"/>
<text x="158.5" y="498.7" font-size="6" font-style="italic" text-anchor="middle" font-family="Liberation Serif" fill="#333">L</text>
<rect x="167.4" y="488" width="5.9" height="5" fill="#fff" stroke="#444" stroke-width="0.9"/>
<rect x="164.4" y="493" width="11.8" height="6" fill="#fff" stroke="#444" stroke-width="0.9"/>
<line x1="166.40" y1="493.50" x2="166.40" y2="498.50" stroke="#888" stroke-width="0.6" />
<line x1="174.20" y1="493.50" x2="174.20" y2="498.50" stroke="#888" stroke-width="0.6" />
<circle cx="169.5" cy="504.9" r="3.9" fill="#fff" stroke="#444" stroke-width="0.9"/>
<text x="169.5" y="507.2" font-size="6" font-style="italic" text-anchor="middle" font-family="Liberation Serif" fill="#333">N</text>
<rect x="178.8" y="496.4" width="3.4" height="5.1" fill="#fff" stroke="#444" stroke-width="0.9"/>
<rect x="175.4" y="501.5" width="11.9" height="5.9" fill="#fff" stroke="#444" stroke-width="0.9"/>
<line x1="177.40" y1="502.00" x2="177.40" y2="506.90" stroke="#888" stroke-width="0.6" />
<line x1="185.30" y1="502.00" x2="185.30" y2="506.90" stroke="#888" stroke-width="0.6" />
<circle cx="171.6" cy="519.3" r="3.9" fill="#fff" stroke="#444" stroke-width="0.9"/>
<text x="171.6" y="521.5999999999999" font-size="6" font-style="italic" text-anchor="middle" font-family="Liberation Serif" fill="#333">G</text>
<rect x="181.3" y="511.2" width="3.8" height="5.5" fill="#fff" stroke="#444" stroke-width="0.9"/>
<rect x="178" y="516.7" width="11.8" height="6" fill="#fff" stroke="#444" stroke-width="0.9"/>
<line x1="180.00" y1="517.20" x2="180.00" y2="522.20" stroke="#888" stroke-width="0.6" />
<line x1="187.80" y1="517.20" x2="187.80" y2="522.20" stroke="#888" stroke-width="0.6" />
<path d="M176.7,494.7 C190,493 195,507 207.6,508.3 L224,507.5" fill="none" stroke="#333" stroke-width="1"/>
<path d="M187.3,504.9 C195,507 200,510 207.6,509.8 L224,510.2" fill="none" stroke="#333" stroke-width="1"/>
<path d="M189.8,519.7 C205,520 210,513 223,512.9" fill="none" stroke="#333" stroke-width="1"/>
<path d="M256.4,472.8 A31.9,45.2 0 0 0 256.4,563.3 L274.6,565.7 A31.9,45.2 0 0 0 274.6,475.3 Z" fill="#fff" stroke="#222" stroke-width="1.2"/>
<ellipse cx="274.6" cy="520.5" rx="31.9" ry="45.2" fill="#fff" stroke="#222" stroke-width="1.2"/>
<ellipse cx="276.3" cy="520.8" rx="30" ry="43.6" fill="none" stroke="#555" stroke-width="0.9"/>
<ellipse cx="262" cy="473.3" rx="2.6" ry="1" fill="none" stroke="#666" stroke-width="0.8"/>
<rect x="259.6" y="450" width="4" height="6.3" rx="0.8" fill="#fff" stroke="#333" stroke-width="1"/>
<ellipse cx="261.6" cy="449.2" rx="4.3" ry="1.5" fill="#222"/>
<rect x="259.2" y="581" width="3.6" height="5.5" fill="#fff" stroke="#444" stroke-width="0.9"/>
<path d="M257.3,587.6 L264.7,587.6 Q261,585 257.3,587.6 Z" fill="#fff" stroke="#444" stroke-width="0.9"/>
<path d="M275,485 L287.8,489.5 L287.8,499.3 L275,499.6 Z" fill="#fff" stroke="#333" stroke-width="0.9"/>
<ellipse cx="275" cy="492.3" rx="3.8" ry="7.3" fill="#fff" stroke="#333" stroke-width="1"/>
<path d="M278.5,486.5 Q276.5,492.3 278.5,498.8" fill="none" stroke="#555" stroke-width="0.8"/>
<path d="M287.8,489.8 L467,529.5 L467,537.5 L287.8,499.2 Z" fill="#333" stroke="#222" stroke-width="0.8"/>
<path d="M289,494.5 L466,533.5" stroke="#666" stroke-width="1" stroke-dasharray="1.2,1"/>
<path d="M466,529.6 L481,531 L481,541.7 L466,538.5 Z" fill="#fff" stroke="#333" stroke-width="0.9"/>
<path d="M481,531 C495,528 505,528 514,528.8 L512,560 C500,557 488,548 481,541.7 Z" fill="#fff" stroke="#333" stroke-width="1"/>
<line x1="480.50" y1="531.00" x2="480.50" y2="541.70" stroke="#444" stroke-width="1.6" />
<ellipse cx="512.5" cy="544.2" rx="9.5" ry="15.2" fill="#fff" stroke="#333" stroke-width="1"/>
<ellipse cx="518.75" cy="545" rx="10.4" ry="15.1" fill="#fff" stroke="#333" stroke-width="1"/>
<ellipse cx="519.2" cy="545.6" rx="6.8" ry="9.8" fill="none" stroke="#333" stroke-width="1.6"/>
<rect x="129.4" y="563.8" width="103.1" height="88.9" rx="9" ry="9" fill="none" stroke="#aaa" stroke-width="1" stroke-dasharray="6,4"/>
<rect x="159.3" y="574" width="11.2" height="26.8" fill="#fff" stroke="#444" stroke-width="1"/>
<circle cx="164.9" cy="590.2" r="4.9" fill="#fff" stroke="#333" stroke-width="1.1"/>
<line x1="163.50" y1="586.00" x2="163.50" y2="594.50" stroke="#555" stroke-width="0.7" />
<line x1="166.30" y1="586.00" x2="166.30" y2="594.50" stroke="#555" stroke-width="0.7" />
<rect x="175.8" y="574" width="11.2" height="26.8" fill="#fff" stroke="#444" stroke-width="1"/>
<circle cx="181.4" cy="590.2" r="4.9" fill="#fff" stroke="#333" stroke-width="1.1"/>
<line x1="180.00" y1="586.00" x2="180.00" y2="594.50" stroke="#555" stroke-width="0.7" />
<line x1="182.80" y1="586.00" x2="182.80" y2="594.50" stroke="#555" stroke-width="0.7" />
<rect x="192.4" y="574" width="11.2" height="26.8" fill="#fff" stroke="#444" stroke-width="1"/>
<circle cx="198.0" cy="590.2" r="4.9" fill="#fff" stroke="#333" stroke-width="1.1"/>
<line x1="196.60" y1="586.00" x2="196.60" y2="594.50" stroke="#555" stroke-width="0.7" />
<line x1="199.40" y1="586.00" x2="199.40" y2="594.50" stroke="#555" stroke-width="0.7" />
<path d="M162,601 L162,606 Q160,620 150,628 L152,631 Q163,622 166,607 L167,601" fill="#fff" stroke="#444" stroke-width="0.9"/>
<path d="M197,601 L197,607 Q199,622 211,631 L213,628 Q203,620 201.5,606 L201.5,601" fill="#fff" stroke="#444" stroke-width="0.9"/>
<path d="M178,600.8 L178,613.4 L184.2,613.4 L184.2,600.8 M181.1,600.8 L181.1,613.4" fill="#fff" stroke="#444" stroke-width="0.9"/>
<path d="M162.5,606 Q160,610 162.5,613 M163.5,603 L160.5,612" fill="none" stroke="#444" stroke-width="0.8"/>
<path d="M202,604 Q203,609 206,612" fill="none" stroke="#444" stroke-width="0.9"/>
<circle cx="181.3" cy="621.2" r="3.9" fill="#fff" stroke="#444" stroke-width="0.9"/>
<path d="M178.8,620 L183.8,620 M179.5,621.5 L183,621.5 M181.3,620 L181.3,624" stroke="#444" stroke-width="0.7"/>
<text x="137" y="613.4" font-family="Liberation Serif" font-weight="bold" fill="#222" font-size="8.3" textLength="25" lengthAdjust="spacingAndGlyphs">Neutral</text>
<text x="207" y="613.4" font-family="Liberation Serif" font-weight="bold" fill="#222" font-size="8.3" textLength="34" lengthAdjust="spacingAndGlyphs">Live wire</text>
<text x="133.2" y="638.5" font-family="Liberation Serif" font-weight="bold" fill="#222" font-size="8.3" textLength="25.5" lengthAdjust="spacingAndGlyphs">Neutral</text>
<text x="161" y="637.3" font-family="Liberation Serif" font-weight="bold" fill="#222" font-size="8.3" textLength="42.5" lengthAdjust="spacingAndGlyphs">Ground wire</text>
<text x="209.3" y="639.5" font-family="Liberation Serif" font-weight="bold" fill="#222" font-size="8.3" textLength="34" lengthAdjust="spacingAndGlyphs">Live wire</text>
<path d="M400,296 A15.2,23 0 0 0 400,342 L410.3,343.6 A15,22.6 0 0 0 410.3,298.4 Z" fill="#fff" stroke="#333" stroke-width="0.95"/>
<ellipse cx="410.3" cy="321" rx="15" ry="22.6" fill="#fff" stroke="#333" stroke-width="0.95"/>
<ellipse cx="411.5" cy="321.2" rx="13.7" ry="21.5" fill="none" stroke="#777" stroke-width="0.8"/>
<ellipse cx="402" cy="295.8" rx="1.5" ry="0.8" fill="#333"/>
<path d="M411.5,302 L417.8,304.6 L417.8,310.4 L411.5,310 Z" fill="#fff" stroke="#333" stroke-width="0.8"/>
<ellipse cx="411.5" cy="306" rx="2.6" ry="4" fill="#fff" stroke="#333" stroke-width="0.9"/>
<path d="M417.8,305.4 L511.5,327.2 L511.5,331.4 L417.8,309.6 Z" fill="#222" stroke="#222" stroke-width="0.6"/>
<path d="M511.5,327 L516.5,328 L516.5,332.8 L511.5,331.6 Z" fill="#fff" stroke="#333" stroke-width="0.8"/>
<path d="M516.5,328 C522,326.5 527,326 535,326.5 L534,341.3 C528,340 521,336 516.5,332.8 Z" fill="#fff" stroke="#333" stroke-width="0.9"/>
<ellipse cx="534.5" cy="333.8" rx="5" ry="7.5" fill="#fff" stroke="#333" stroke-width="0.9"/>
<ellipse cx="537.8" cy="333.8" rx="5.4" ry="7.4" fill="#fff" stroke="#333" stroke-width="0.9"/>
<ellipse cx="538.2" cy="334" rx="3.3" ry="4.8" fill="none" stroke="#333" stroke-width="1.2"/>
</svg>
</body></html>
